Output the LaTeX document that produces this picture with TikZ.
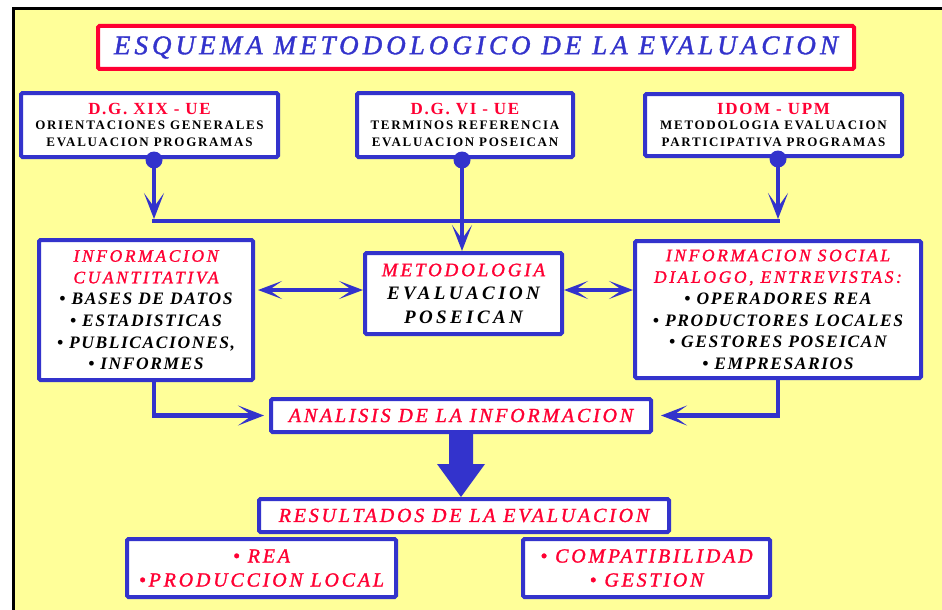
\documentclass[tikz,border=0pt]{standalone}
\usepackage{fontspec}
\setmainfont{Liberation Serif}
\usetikzlibrary{arrows.meta,calc}
\definecolor{myblue}{HTML}{3333CC}
\definecolor{myred}{HTML}{FF0033}
\definecolor{bgyellow}{HTML}{FFFF99}
\newcommand\rd[1]{{\mdseries\addfontfeatures{LetterSpace=15,FakeBold=1.3}\color{myred}#1}}
\newcommand\tophead[1]{{\fontsize{17}{17}\selectfont\addfontfeatures{LetterSpace=10}\color{myred}#1}}
\tikzset{
  box/.style={draw=myblue, line width=4pt, fill=white, inner sep=0pt, rounded corners=1.5pt, align=center},
  titlebox/.style={box, draw=myred, text=myblue, font=\fontsize{27}{27}\selectfont\itshape\addfontfeatures{LetterSpace=15,FakeBold=1.3}},
  tbox/.style={box, font=\fontsize{13}{17}\selectfont\bfseries\addfontfeatures{LetterSpace=13}},
  ibox/.style={box, font=\fontsize{17.5}{21.6}\selectfont\bfseries\itshape\addfontfeatures{LetterSpace=9}},
  mbox/.style={box, font=\fontsize{19}{23.5}\selectfont\bfseries\itshape\addfontfeatures{LetterSpace=18}},
  rbox/.style={box, text=myred, font=\fontsize{20}{24}\selectfont\itshape\addfontfeatures{LetterSpace=14,FakeBold=1.3}},
  wire/.style={draw=myblue, line width=4.5pt},
  conn/.style={wire, -{Stealth[length=26pt,width=20pt,inset=14pt]}},
  dbl/.style={wire, line width=4pt, {Stealth[length=24pt,width=18pt,inset=13pt]}-{Stealth[length=24pt,width=18pt,inset=13pt]}},
}
\begin{document}
\begin{tikzpicture}[x=1pt,y=-1pt]
\clip (0,0) rectangle (942,610);
\fill[white] (0,0) rectangle (942,610);
\draw[line width=3pt, fill=bgyellow] (13,9) rectangle (990,660);

\node[titlebox, minimum width=756pt, minimum height=43pt] (title) at (476,47.5) {ESQUEMA METODOLOGICO DE LA EVALUACION};

\node[tbox, minimum width=257pt, minimum height=64pt] (b1) at (149.5,125) {\tophead{D.G. XIX - UE}\\[-1.5pt]ORIENTACIONES GENERALES\\EVALUACION PROGRAMAS};
\node[tbox, minimum width=216pt, minimum height=64pt] (b2) at (465,125) {\tophead{D.G. VI - UE}\\[-1.5pt]TERMINOS REFERENCIA\\EVALUACION POSEICAN};
\node[tbox, minimum width=257pt, minimum height=62pt] (b3) at (773.5,125) {\tophead{IDOM - UPM}\\[-1.5pt]METODOLOGIA EVALUACION\\PARTICIPATIVA PROGRAMAS};

\node[ibox, minimum width=214pt, minimum height=140pt] (qi) at (146,310) {\rd{INFORMACION}\\\rd{CUANTITATIVA}\\• BASES DE DATOS\\• ESTADISTICAS\\• PUBLICACIONES,\\• INFORMES};
\node[mbox, minimum width=197pt, minimum height=81pt] (metod) at (463.5,293.5) {\rd{METODOLOGIA}\\EVALUACION\\POSEICAN};
\node[ibox, minimum width=286pt, minimum height=137pt] (rt) at (778,309.5) {\rd{INFORMACION SOCIAL}\\\rd{DIALOGO, ENTREVISTAS:}\\• OPERADORES REA\\• PRODUCTORES LOCALES\\• GESTORES POSEICAN\\• EMPRESARIOS};

\node[rbox, minimum width=380pt, minimum height=33pt] (ana) at (461,415.5) {ANALISIS DE LA INFORMACION};
\node[rbox, minimum width=410pt, minimum height=33pt] (res) at (464,515.5) {RESULTADOS DE LA EVALUACION};
\node[rbox, minimum width=269pt, minimum height=58pt] (bl) at (261.5,568) {• REA\\•PRODUCCION LOCAL};
\node[rbox, minimum width=247pt, minimum height=58pt] (br) at (646.5,568) {• COMPATIBILIDAD\\• GESTION};

% connectors from top boxes
\coordinate (d1) at ([xshift=4.5pt,yshift=-1pt]b1.south);
\coordinate (d2) at ([xshift=-3pt,yshift=-1pt]b2.south);
\coordinate (d3) at ([xshift=4.5pt,yshift=-1pt]b3.south);
\coordinate (j1) at (d1 |- 0,221);
\coordinate (j3) at (d3 |- 0,221);
\draw[wire] ([xshift=-2.25pt]j1) -- ([xshift=2.25pt]j3);
\draw[conn] (d1) -- ([yshift=2pt]j1);
\draw[conn] (d3) -- ([yshift=2pt]j3);
\draw[conn] (d2) -- (d2 |- metod.north);
\fill[myblue] (d1) circle (8.5pt);
\fill[myblue] (d2) circle (8.5pt);
\fill[myblue] (d3) circle (8.5pt);

% double arrows
\draw[dbl, shorten <=3pt] (qi.east |- 0,290) -- (metod.west |- 0,290);
\draw[dbl] (metod.east |- 0,290) -- (rt.west |- 0,290);

% to analysis
\draw[conn, shorten >=5pt] ([xshift=8pt]qi.south) |- (ana.west);
\draw[conn, shorten >=8pt] (rt.south) |- (ana.east);

% big block arrow
\fill[myblue] ($(ana.south)+(-12,-2)$) -- ($(ana.south)+(12,-2)$) -- ($(ana.south)+(12,30)$) -- ($(ana.south)+(24,30)$) -- (ana.south |- res.north) -- ($(ana.south)+(-24,30)$) -- ($(ana.south)+(-12,30)$) -- cycle;
\end{tikzpicture}
\end{document}
